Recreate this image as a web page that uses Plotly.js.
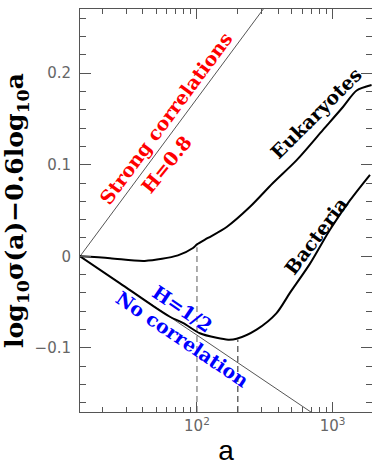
<!DOCTYPE html>
<html><head><meta charset="utf-8">
<script src="https://cdn.plot.ly/plotly-3.0.1.min.js"></script>
<style>html,body{margin:0;padding:0;background:#fff;}#chart{width:372px;height:467px;}</style>
</head><body><div id="chart"></div>
<script>
// Data
const eukX = [13.74, 22.9, 41.2, 72.4, 93.5, 100, 120.5, 165.6, 246, 363, 543, 849, 1191, 1503, 1936];
const eukY = [0, -0.002, -0.005, 0.001, 0.009, 0.013, 0.020, 0.032, 0.054, 0.080, 0.105, 0.138, 0.163, 0.181, 0.187];
const bacX = [13.74, 27.1, 45.1, 63.2, 79.3, 105, 139.6, 170, 196, 275, 386, 484, 681, 955, 1340, 1884];
const bacY = [0, -0.0295, -0.052, -0.066, -0.073, -0.084, -0.089, -0.091, -0.090, -0.080, -0.062, -0.040, -0.008, 0.029, 0.061, 0.089];
const strongX = [13.74, 1950];
const strongY = [0, 0.430];
const noCorrX = [13.74, 1950];
const noCorrY = [0, -0.215];
const dash1X = [100, 100];
const dash1Y = [-0.17, 0.010];
const dash2X = [200, 200];
const dash2Y = [-0.17, -0.091];
const yTickVals = [-0.1, 0, 0.1, 0.2];
const yTickText = ['\u22120.1', '0', '0.1', '0.2'];
const xTickVals = [100, 1000];
const xTickText = ['10<sup>2</sup>', '10<sup>3</sup>'];
const xMinorVals = [20, 30, 40, 50, 60, 70, 80, 90, 200, 300, 400, 500, 600, 700, 800, 900, 2000];

const traces = [
  {x: strongX, y: strongY, mode: 'lines', line: {color: '#555', width: 1}, hoverinfo: 'skip'},
  {x: noCorrX, y: noCorrY, mode: 'lines', line: {color: '#555', width: 1}, hoverinfo: 'skip'},
  {x: dash1X, y: dash1Y, mode: 'lines', line: {color: '#777', width: 1.2, dash: '6px,4px'}, hoverinfo: 'skip'},
  {x: dash2X, y: dash2Y, mode: 'lines', line: {color: '#444', width: 1.2, dash: '6px,4px'}, hoverinfo: 'skip'},
  {x: eukX, y: eukY, mode: 'lines', line: {color: '#000', width: 2, shape: 'spline', smoothing: 0.8}},
  {x: bacX, y: bacY, mode: 'lines', line: {color: '#000', width: 2, shape: 'spline', smoothing: 0.8}}
];

function ann(text, la, y, ang, color) {
  return {text: '<b>' + text + '</b>', x: la, y: y, xref: 'x', yref: 'y', showarrow: false,
    textangle: ang, xanchor: 'center', yanchor: 'middle',
    font: {family: 'DejaVu Serif', size: 19, color: color}};
}

const layout = {
  width: 372, height: 467,
  margin: {l: 80, r: 0, t: 9, b: 55},
  paper_bgcolor: '#fff', plot_bgcolor: '#fff',
  showlegend: false,
  xaxis: {
    type: 'log', range: [1.138, 3.29],
    tickmode: 'array', tickvals: xTickVals, ticktext: xTickText,
    ticks: 'inside', ticklen: 10, tickwidth: 1, tickcolor: '#555',
    showline: true, linecolor: '#555', linewidth: 1, mirror: 'allticks',
    showgrid: false, zeroline: false,
    tickfont: {family: 'DejaVu Sans', size: 15, color: '#666'},
    minor: {tickvals: xMinorVals, ticks: 'inside', ticklen: 5, tickwidth: 1, tickcolor: '#555', showgrid: false},
    title: {text: 'a', font: {family: 'Liberation Sans', size: 28, color: '#000'}, standoff: 6}
  },
  yaxis: {
    range: [-0.17, 0.27],
    tickmode: 'array', tickvals: yTickVals, ticktext: yTickText,
    ticks: 'inside', ticklen: 11, tickwidth: 1, tickcolor: '#555',
    ticklabelstandoff: 5,
    showline: true, linecolor: '#555', linewidth: 1, mirror: 'allticks',
    showgrid: false, zeroline: false,
    tickfont: {family: 'DejaVu Sans', size: 15, color: '#666'},
    minor: {dtick: 0.02, tick0: 0, ticks: 'inside', ticklen: 6, tickwidth: 1, tickcolor: '#555', showgrid: false},
    title: {text: '<b>log<sub>10</sub>\u03c3(a)\u22120.6log<sub>10</sub>a</b>', font: {family: 'DejaVu Serif', size: 25, color: '#000'}, standoff: 3}
  },
  annotations: [
    ann('Strong correlations', 1.772, 0.1507, -53.5, '#ff0000'),
    ann('H=0.8', 1.777, 0.1005, -51, '#ff0000'),
    ann('Eukaryotes', 2.877, 0.157, -45, '#000'),
    ann('Bacteria', 2.877, 0.022, -53, '#000'),
    ann('H=1/2', 1.897, -0.0574, 34, '#0000ff'),
    ann('No correlation', 1.893, -0.090, 34, '#0000ff')
  ]
};

Plotly.newPlot('chart', traces, layout, {displayModeBar: false, staticPlot: true});
</script>
</body></html>
